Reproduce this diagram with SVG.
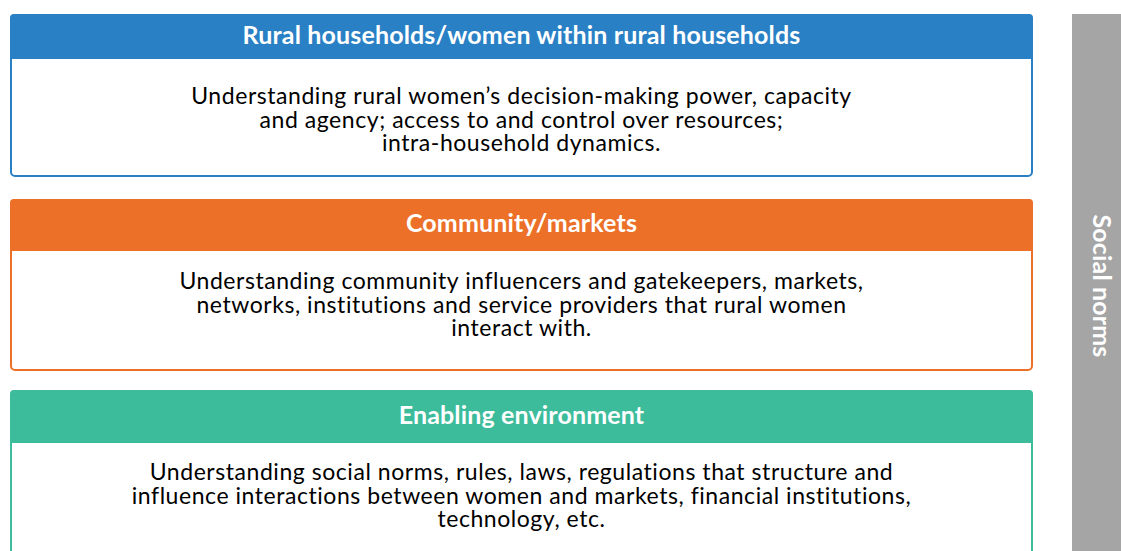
<svg xmlns="http://www.w3.org/2000/svg" width="1121" height="551" viewBox="0 0 1121 551">
<style>
.box{fill:#fff;stroke-width:2}
.title{font-family:Lato,"Open Sans",sans-serif;font-weight:bold;font-size:25px;letter-spacing:0.15px;fill:#fff;text-anchor:middle}
.body{font-family:Lato,"Open Sans",sans-serif;font-size:23px;letter-spacing:0.55px;fill:#000;text-anchor:middle}
</style>
<rect x="0" y="0" width="1121" height="551" fill="#fff"/>
<g id="rural">
<rect class="box" x="11" y="15" width="1021" height="161" rx="4" stroke="#2A80C5"/>
<path d="M10 18a4 4 0 0 1 4-4h1015a4 4 0 0 1 4 4v41H10z" fill="#2A80C5"/>
<text class="title" x="521.5" y="44">Rural households/women within rural households</text>
<text class="body" x="521.5" y="104">Understanding rural women’s decision-making power, capacity</text>
<text class="body" x="521.5" y="127.5">and agency; access to and control over resources;</text>
<text class="body" x="521.5" y="151">intra-household dynamics.</text>
</g>
<g id="community">
<rect class="box" x="11" y="200" width="1021" height="170" rx="4" stroke="#EC7028"/>
<path d="M10 203a4 4 0 0 1 4-4h1015a4 4 0 0 1 4 4v48H10z" fill="#EC7028"/>
<text class="title" x="521.5" y="232">Community/markets</text>
<text class="body" x="521.5" y="289">Understanding community influencers and gatekeepers, markets,</text>
<text class="body" x="521.5" y="312.5">networks, institutions and service providers that rural women</text>
<text class="body" x="521.5" y="336">interact with.</text>
</g>
<g id="enabling">
<rect class="box" x="11" y="391" width="1021" height="175" rx="4" stroke="#3CBC9B"/>
<path d="M10 394a4 4 0 0 1 4-4h1015a4 4 0 0 1 4 4v49H10z" fill="#3CBC9B"/>
<text class="title" x="521.5" y="424">Enabling environment</text>
<text class="body" x="521.5" y="480">Understanding social norms, rules, laws, regulations that structure and</text>
<text class="body" x="521.5" y="503.5">influence interactions between women and markets, financial institutions,</text>
<text class="body" x="521.5" y="527">technology, etc.</text>
</g>
<g id="social-norms">
<rect x="1072" y="14" width="49" height="537" fill="#A5A5A5"/>
<text class="title" font-size="24" transform="translate(1097 286) rotate(90)" x="0" y="4">Social norms</text>
</g>
<g id="connectors"/>
</svg>
